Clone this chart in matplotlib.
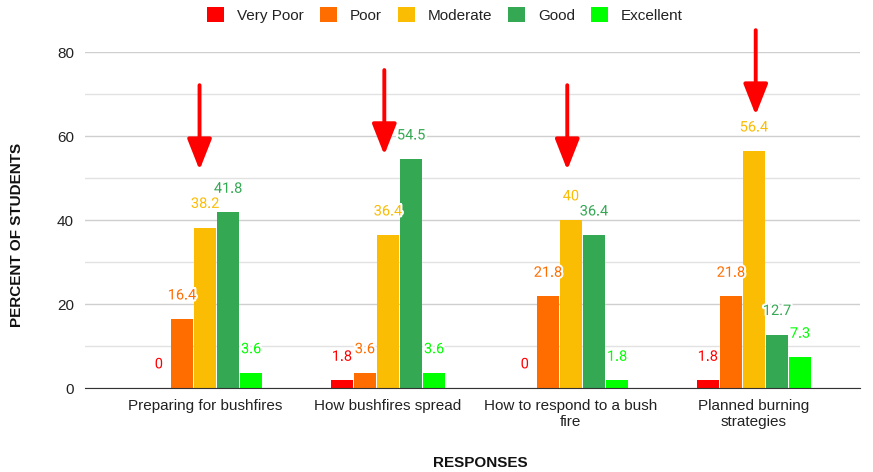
import numpy as np
import matplotlib
matplotlib.use("Agg")
import matplotlib.pyplot as plt
import matplotlib.patheffects as pe

# data
categories = ["Preparing for bushfires", "How bushfires spread",
              "How to respond to a bush\nfire", "Planned burning\nstrategies"]
series = ["Very Poor", "Poor", "Moderate", "Good", "Excellent"]
very_poor = [0, 1.8, 0, 1.8]
poor = [16.4, 3.6, 21.8, 21.8]
moderate = [38.2, 36.4, 40, 56.4]
good = [41.8, 54.5, 36.4, 12.7]
excellent = [3.6, 3.6, 1.8, 7.3]
colors = ["#ff0000", "#ff6d01", "#fbbc04", "#34a853", "#00ff00"]

# red arrows (top, tip) in data units
arrow_x = [-0.03, -0.02, -0.02, 0.01]
arrow_top = [72.1, 75.7, 72.1, 85.2]
arrow_tip = [51.9, 55.5, 51.9, 65.0]

values = [very_poor, poor, moderate, good, excellent]

fig = plt.figure(figsize=(8.73, 4.72), dpi=100)
ax = fig.add_axes([85 / 873, 1 - 388 / 472, (860 - 85) / 873, (388 - 52) / 472])

x = np.arange(len(categories))
width = 0.12
pitch = 0.126
for i, (name, vals, c) in enumerate(zip(series, values, colors)):
    xs = x + (i - 2) * pitch
    ax.bar(xs, vals, width=width, color=c, label=name, zorder=3)
    for xi, v in zip(xs, vals):
        t = ax.annotate(f"{v:g}", (xi, v), xytext=(0, 12), textcoords="offset points",
                        ha="center", va="bottom", color=c, fontsize=10.5,
                        family="Roboto", zorder=5)
        t.set_path_effects([pe.withStroke(linewidth=3, foreground="white")])

for ax_x, top, tip, xc in zip(arrow_x, arrow_top, arrow_tip, x):
    ax.annotate("", xy=(xc + ax_x, tip), xytext=(xc + ax_x, top),
                arrowprops=dict(arrowstyle="-|>,head_length=1.9,head_width=0.75",
                                color="#ff0000", lw=2.8, shrinkA=0, shrinkB=0),
                annotation_clip=False, zorder=6)

ax.set_xlim(-0.656, 3.58)
ax.set_ylim(0, 80)
ax.set_yticks([0, 20, 40, 60, 80])
ax.set_yticks([10, 30, 50, 70], minor=True)
ax.grid(axis="y", which="major", color="#cfcfcf", lw=1, zorder=0)
ax.grid(axis="y", which="minor", color="#e2e2e2", lw=1, zorder=0)
ax.tick_params(axis="y", which="both", length=0, labelsize=11, pad=8)
ax.tick_params(axis="x", length=0, labelsize=11, pad=8)
ax.set_xticks(x)
ax.set_xticklabels(categories, family="Liberation Sans", color="#222222")
for lab in ax.get_yticklabels():
    lab.set_family("Liberation Sans")
    lab.set_color("#222222")
for s in ["top", "right", "left"]:
    ax.spines[s].set_visible(False)
ax.spines["bottom"].set_color("#333333")
ax.spines["bottom"].set_zorder(4)

fig.text(17 / 873, 1 - 235 / 472, "PERCENT OF STUDENTS", rotation=90, ha="center", va="center",
         fontsize=11, fontweight="bold", family="Liberation Sans", color="#111111")
fig.text(480 / 873, 1 - 463 / 472, "RESPONSES", ha="center", va="center",
         fontsize=11, fontweight="bold", family="Liberation Sans", color="#111111")

leg = fig.legend(loc="center", bbox_to_anchor=(445 / 873, 1 - 15 / 472), ncol=5, frameon=False,
                 prop={"family": "Liberation Sans", "size": 11}, handlelength=1.1,
                 handleheight=1.1, columnspacing=1.05, handletextpad=0.85)
for t in leg.get_texts():
    t.set_color("#222222")

fig.savefig("out.png", dpi=100)
